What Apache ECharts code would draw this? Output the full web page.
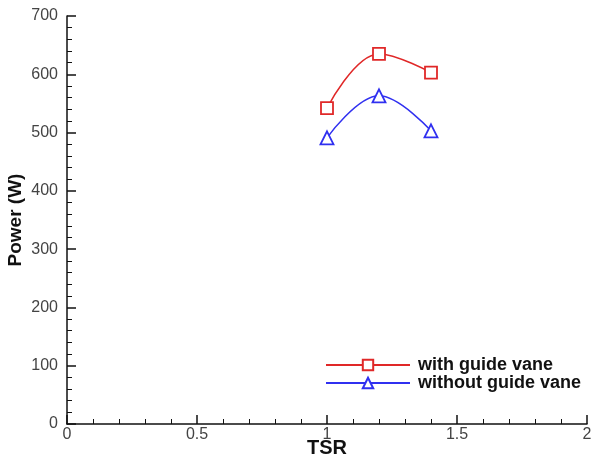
<!DOCTYPE html>
<html>
<head>
<meta charset="utf-8">
<script src="https://cdn.jsdelivr.net/npm/echarts@6/dist/echarts.min.js"></script>
<style>html,body{margin:0;padding:0;background:#fff;}#c{width:591px;height:461px;}</style>
</head>
<body>
<div id="c"></div>
<script>
const tsr = [1.0, 1.2, 1.4];
const withGuide = [542, 635, 603];
const withoutGuide = [491, 563, 503];
const seriesNames = ['with guide vane', 'without guide vane'];

const chart = echarts.init(document.getElementById('c'), null, {renderer: 'canvas'});
const pair = (xs, ys) => xs.map((x, i) => [x, ys[i]]);
const font = 'Liberation Sans, Arial, sans-serif';
chart.setOption({
  animation: false,
  grid: {left: 67, right: 4, top: 16, bottom: 37, containLabel: false, outerBoundsMode: 'none'},
  legend: {
    data: seriesNames,
    orient: 'vertical',
    left: 320,
    top: 351,
    itemWidth: 84,
    itemHeight: 13,
    itemGap: 0,
    textStyle: {fontFamily: font, fontSize: 18, fontWeight: 'bold', color: '#111', padding: [0, 0, 0, 3]}
  },
  xAxis: {
    type: 'value', min: 0, max: 2, interval: 0.5,
    name: 'TSR', nameLocation: 'middle', nameGap: 14, nameMoveOverlap: false,
    nameTextStyle: {fontFamily: font, fontSize: 20, fontWeight: 'bold', color: '#111'},
    axisLine: {lineStyle: {color: '#111', width: 1.5}},
    axisTick: {inside: true, length: 9, lineStyle: {color: '#111', width: 1.5}},
    minorTick: {show: true, splitNumber: 5, length: 5, lineStyle: {color: '#111', width: 1}},
    splitLine: {show: false},
    axisLabel: {fontFamily: font, fontSize: 16, color: '#444', margin: 3}
  },
  yAxis: {
    type: 'value', min: 0, max: 700, interval: 100,
    name: 'Power (W)', nameLocation: 'middle', nameGap: 42, nameRotate: 90, nameMoveOverlap: false,
    nameTextStyle: {fontFamily: font, fontSize: 19, fontWeight: 'bold', color: '#111'},
    axisLine: {show: true, lineStyle: {color: '#111', width: 1.5}},
    axisTick: {show: true, inside: true, length: 9, lineStyle: {color: '#111', width: 1.5}},
    minorTick: {show: true, splitNumber: 5, length: 5, lineStyle: {color: '#111', width: 1}},
    splitLine: {show: false},
    axisLabel: {fontFamily: font, fontSize: 16, color: '#444', margin: 9}
  },
  series: [
    {
      name: seriesNames[0], type: 'line', smooth: 0.4,
      data: pair(tsr, withGuide),
      symbol: 'rect', symbolSize: 12,
      itemStyle: {color: '#fff', borderColor: '#e02828', borderWidth: 1.8},
      lineStyle: {color: '#e02828', width: 1.5}
    },
    {
      name: seriesNames[1], type: 'line', smooth: 0.4,
      data: pair(tsr, withoutGuide),
      symbol: 'triangle', symbolSize: 13,
      itemStyle: {color: '#fff', borderColor: '#3030f0', borderWidth: 1.8},
      lineStyle: {color: '#3030f0', width: 1.5}
    }
  ]
});
</script>
</body>
</html>
